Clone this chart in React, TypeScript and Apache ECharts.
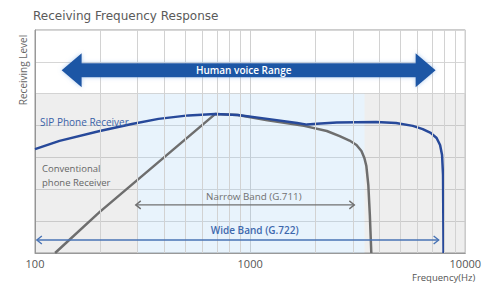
import React, { useEffect, useRef } from "react";
import * as echarts from "echarts";

// SIP phone receiver response (frequency in Hz, relative level)
const sipFreq = [100, 130, 200, 282, 375, 516, 687, 876, 1204, 1654, 1838, 2043, 2526, 3857, 4767, 5705, 6342, 6905, 7357, 7636, 7800, 7882, 7924];
const sipLevel = [3.26, 3.52, 3.83, 4.05, 4.21, 4.32, 4.36, 4.33, 4.21, 4.08, 4.03, 4.06, 4.1, 4.11, 4.08, 3.99, 3.89, 3.77, 3.61, 3.39, 3.08, 2.45, 0];

// Conventional phone receiver response
const convFreq = [124, 200, 687, 876, 1204, 1781, 2272, 2607, 2897, 3121, 3291, 3396, 3469, 3543, 3601, 3658];
const convLevel = [0, 1.29, 4.36, 4.33, 4.17, 3.99, 3.83, 3.67, 3.53, 3.39, 3.2, 2.98, 2.73, 2.13, 1.19, 0];

// Range arrows
const arrowNames = ["Human voice Range", "Narrow Band (G.711)", "Wide Band (G.722)"];
const arrowFrom = [133, 294, 102];
const arrowTo = [7280, 3050, 7520];
const arrowLevel = [5.74, 1.51, 0.41];
const arrowLabelFreq = [933, 1040, 1050];

// Background bands
const bandFrom = [100, 300, 3400];
const bandTo = [300, 3400, 10000];
const bandTop = 5;

// Minor vertical grid lines
const minorGridFreqs = [200, 300, 400, 500, 600, 700, 800, 900, 2000, 3000, 4000, 5000, 6000, 7000, 8000, 9000];

const FONT = "'Open Sans', 'Noto Sans', sans-serif";

export default function App() {
  const ref = useRef<HTMLDivElement>(null);

  useEffect(() => {
    if (!ref.current) return;
    const chart = echarts.init(ref.current, undefined, { renderer: "svg" });

    const bandColors = ["rgba(120,120,120,0.13)", "rgba(150,200,240,0.22)", "rgba(120,120,120,0.13)"];

    const option: any = {
      animation: false,
      textStyle: { fontFamily: FONT },
      grid: {
        left: 35,
        top: 30,
        right: 14,
        bottom: 30,
        show: true,
        borderColor: "#999",
        borderWidth: 1,
        backgroundColor: "transparent",
      },
      xAxis: {
        type: "log",
        logBase: 10,
        min: 100,
        max: 10000,
        axisLine: { show: true, lineStyle: { color: "#999" } },
        axisTick: { show: false },
        axisLabel: {
          color: "#555",
          fontSize: 11,
          margin: 5,
          fontFamily: FONT,
          formatter: (v: number) => String(Math.round(v)),
        },
        splitLine: { show: true, lineStyle: { color: "#cfcfcf", width: 1 } },
      },
      yAxis: {
        type: "value",
        min: 0,
        max: 7,
        interval: 1,
        axisLine: { show: true, lineStyle: { color: "#999" } },
        axisTick: { show: false },
        axisLabel: { show: false },
        splitLine: { show: true, lineStyle: { color: "#d6d6d6", width: 1 } },
      },
      series: [
        {
          type: "line",
          data: [],
          z: 1,
          silent: true,
          markArea: {
            silent: true,
            data: bandFrom.map((f, i) => [
              { xAxis: f, yAxis: 0, itemStyle: { color: bandColors[i] } },
              { xAxis: bandTo[i], yAxis: bandTop },
            ]),
          },
          markLine: {
            silent: true,
            symbol: "none",
            label: { show: false },
            lineStyle: { color: "#d2d2d2", width: 1, type: "solid" },
            data: minorGridFreqs.map((f) => ({ xAxis: f })),
          },
        },
        {
          name: "Conventional phone Receiver",
          type: "line",
          z: 3,
          data: convFreq.map((f, i) => [f, convLevel[i]]),
          showSymbol: false,
          smooth: false,
          lineStyle: { color: "#6e6e6e", width: 2.5, join: "round" },
        },
        {
          name: "SIP Phone Receiver",
          type: "line",
          z: 4,
          data: sipFreq.map((f, i) => [f, sipLevel[i]]),
          showSymbol: false,
          smooth: false,
          lineStyle: { color: "#27499a", width: 2.5, join: "round" },
        },
        {
          type: "custom",
          z: 5,
          silent: true,
          encode: { x: [0, 1, 3], y: 2 },
          data: arrowNames.map((n, i) => [arrowFrom[i], arrowTo[i], arrowLevel[i], arrowLabelFreq[i]]),
          renderItem: (params: any, api: any) => {
            const i = params.dataIndex;
            const lvl = api.value(2);
            const a = api.coord([api.value(0), lvl]);
            const b = api.coord([api.value(1), lvl]);
            const t = api.coord([api.value(3), lvl]);
            const x1 = a[0];
            const x2 = b[0];
            const y = a[1];
            if (i === 0) {
              const h = 20;
              const bh = 7;
              const hh = 17;
              return {
                type: "group",
                children: [
                  {
                    type: "polygon",
                    shape: {
                      points: [
                        [x1, y],
                        [x1 + h, y - hh],
                        [x1 + h, y - bh],
                        [x2 - h, y - bh],
                        [x2 - h, y - hh],
                        [x2, y],
                        [x2 - h, y + hh],
                        [x2 - h, y + bh],
                        [x1 + h, y + bh],
                        [x1 + h, y + hh],
                      ],
                    },
                    style: { fill: "#1d56a5", shadowBlur: 4, shadowColor: "rgba(120,170,230,0.6)" },
                  },
                  {
                    type: "text",
                    x: t[0],
                    y: y,
                    style: {
                      text: arrowNames[i],
                      fill: "#ffffff",
                      fontSize: 10,
                      fontWeight: 600,
                      fontFamily: FONT,
                      align: "center",
                      verticalAlign: "middle",
                    },
                  },
                ],
              };
            }
            const color = i === 1 ? "#707070" : "#4873b5";
            const tcol = i === 1 ? "#707070" : "#3d68ad";
            const c = 4;
            return {
              type: "group",
              children: [
                {
                  type: "line",
                  shape: { x1, y1: y, x2, y2: y },
                  style: { stroke: color, lineWidth: i === 1 ? 1.2 : 1.6 },
                },
                {
                  type: "polyline",
                  shape: { points: [[x1 + c + 1, y - c], [x1, y], [x1 + c + 1, y + c]] },
                  style: { stroke: color, lineWidth: 1.4, fill: "none" },
                },
                {
                  type: "polyline",
                  shape: { points: [[x2 - c - 1, y - c], [x2, y], [x2 - c - 1, y + c]] },
                  style: { stroke: color, lineWidth: 1.4, fill: "none" },
                },
                {
                  type: "text",
                  x: t[0],
                  y: y - (i === 1 ? 8 : 10),
                  style: {
                    text: arrowNames[i],
                    fill: tcol,
                    fontSize: i === 1 ? 9.8 : 10,
                    fontWeight: i === 1 ? 400 : 600,
                    fontFamily: FONT,
                    align: "center",
                    verticalAlign: "middle",
                  },
                },
              ],
            };
          },
        },
      ],
      graphic: [
        {
          type: "text",
          left: 33,
          top: 10,
          style: { text: "Receiving Frequency Response", fill: "#5a5a5a", fontSize: 12, fontFamily: "'DejaVu Sans', sans-serif" },
        },
        {
          type: "text",
          x: 23,
          y: 70,
          rotation: Math.PI / 2,
          style: {
            text: "Receiving Level",
            fill: "#666",
            fontSize: 10,
            fontFamily: FONT,
            align: "center",
            verticalAlign: "middle",
          },
        },
        {
          type: "text",
          x: 40,
          y: 122,
          z: 10,
          style: {
            text: "SIP Phone Receiver",
            fill: "#3a62a8",
            fontSize: 10,
            fontFamily: FONT,
            verticalAlign: "middle",
          },
        },
        {
          type: "text",
          x: 42,
          y: 168.5,
          z: 10,
          style: {
            text: "Conventional",
            fill: "#666",
            fontSize: 9.5,
            fontFamily: FONT,
            verticalAlign: "middle",
          },
        },
        {
          type: "text",
          x: 42,
          y: 182,
          z: 10,
          style: {
            text: "phone Receiver",
            fill: "#666",
            fontSize: 9.5,
            fontFamily: FONT,
            verticalAlign: "middle",
          },
        },
        {
          type: "text",
          x: 412,
          y: 282,
          style: {
            text: "Frequency(Hz)",
            fill: "#555",
            fontSize: 9.5,
            fontFamily: FONT,
            verticalAlign: "bottom",
          },
        },
      ],
    };

    chart.setOption(option);
    return () => chart.dispose();
  }, []);

  return (
    <div
      ref={ref}
      style={{ position: "fixed", left: 0, top: 0, width: 484, height: 283, background: "#fff" }}
    />
  );
}
